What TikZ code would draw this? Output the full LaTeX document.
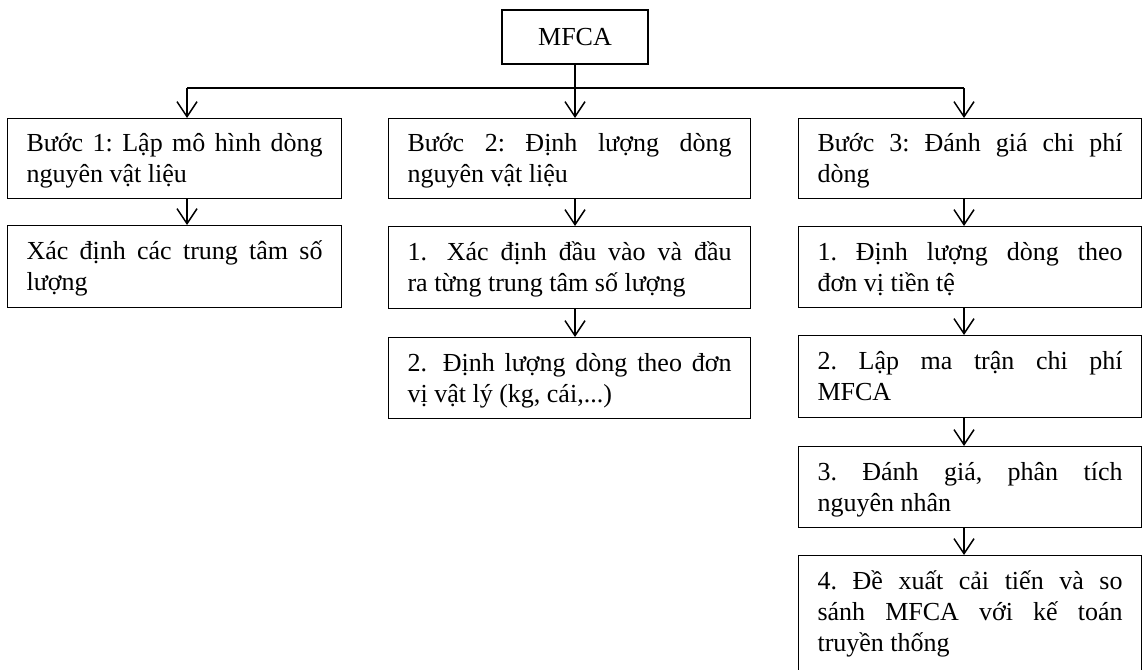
\documentclass[tikz,border=0pt]{standalone}
\usepackage{fontspec}
\setmainfont{Liberation Serif}
\usetikzlibrary{arrows.meta}
\newcommand\jl[2]{\leavevmode\hbox to #1{\frenchspacing\spaceskip=.25em plus 1fil\relax #2}}
\newcommand\pl[1]{\leavevmode\hbox{\frenchspacing\spaceskip=.25em\relax #1}}
\begin{document}
\begin{tikzpicture}[x=1pt,y=-1pt,
  box/.style={draw, line width=1.1pt, anchor=north west, inner xsep=19pt, inner ysep=0pt,
    align=left, text height=24pt, text depth=38pt,
    font=\fontsize{26}{31}\selectfont},
  arr/.style={line width=1.5pt, -{Straight Barb[length=15pt,width=20pt]}},
  conn/.style={line width=2pt}]
\useasboundingbox (0,0) rectangle (1142,669);
% top box
\node[draw, line width=1.1pt, minimum width=146pt, minimum height=54pt, inner sep=0pt,
  font=\fontsize{26}{31}\selectfont] (mfca) at (575,37) {MFCA};
% column 1
\node[box, text width=296pt, minimum width=334pt, minimum height=80pt] (b11) at (7,118)
  {\jl{296pt}{Bước 1: Lập mô hình dòng}\\ \pl{nguyên vật liệu}};
\node[box, text width=296pt, minimum width=334pt, minimum height=82pt] (b12) at (7,225)
  {\jl{296pt}{Xác định các trung tâm số}\\ \pl{lượng}};
% column 2
\node[box, text width=324pt, minimum width=362pt, minimum height=80pt] (b21) at (388,118)
  {\jl{324pt}{Bước 2: Định lượng dòng}\\ \pl{nguyên vật liệu}};
\node[box, text width=324pt, minimum width=362pt, minimum height=82pt] (b22) at (388,226)
  {\jl{324pt}{1.\hspace{8pt} Xác định đầu vào và đầu}\\ \pl{ra từng trung tâm số lượng}};
\node[box, text width=324pt, minimum width=362pt, minimum height=81pt] (b23) at (388,337)
  {\jl{324pt}{2.\hspace{6pt} Định lượng dòng theo đơn}\\ \pl{vị vật lý (kg, cái,...)}};
% column 3
\node[box, text width=305pt, minimum width=343pt, minimum height=80pt] (b31) at (798,118)
  {\jl{305pt}{Bước 3: Đánh giá chi phí}\\ \pl{dòng}};
\node[box, text width=305pt, minimum width=343pt, minimum height=81pt] (b32) at (798,226)
  {\jl{305pt}{1. Định lượng dòng theo}\\ \pl{đơn vị tiền tệ}};
\node[box, text width=305pt, minimum width=343pt, minimum height=82pt] (b33) at (798,335)
  {\jl{305pt}{2. Lập ma trận chi phí}\\ \pl{MFCA}};
\node[box, text width=305pt, minimum width=343pt, minimum height=81pt] (b34) at (798,446)
  {\jl{305pt}{3. Đánh giá, phân tích}\\ \pl{nguyên nhân}};
\node[box, text width=305pt, minimum width=343pt, minimum height=150pt, text depth=107pt] (b35) at (798,555)
  {\jl{305pt}{4. Đề xuất cải tiến và so}\\ \jl{305pt}{sánh MFCA với kế toán}\\ \pl{truyền thống}};
% connectors
\coordinate (L) at (187,88);
\coordinate (M) at (575,88);
\coordinate (R) at (964,88);
\draw[conn] (L) -- (R);
\draw[conn] (mfca.south) -- (M);
\draw[arr] (L) -- (b11.north -| L);
\draw[arr] (M) -- (b21.north -| M);
\draw[arr] (R) -- (b31.north -| R);
\draw[arr] (b11.south -| L) -- (b12.north -| L);
\draw[arr] (b21.south -| M) -- (b22.north -| M);
\draw[arr] (b22.south -| M) -- (b23.north -| M);
\draw[arr] (b31.south -| R) -- (b32.north -| R);
\draw[arr] (b32.south -| R) -- (b33.north -| R);
\draw[arr] (b33.south -| R) -- (b34.north -| R);
\draw[arr] (b34.south -| R) -- (b35.north -| R);
\end{tikzpicture}
\end{document}
